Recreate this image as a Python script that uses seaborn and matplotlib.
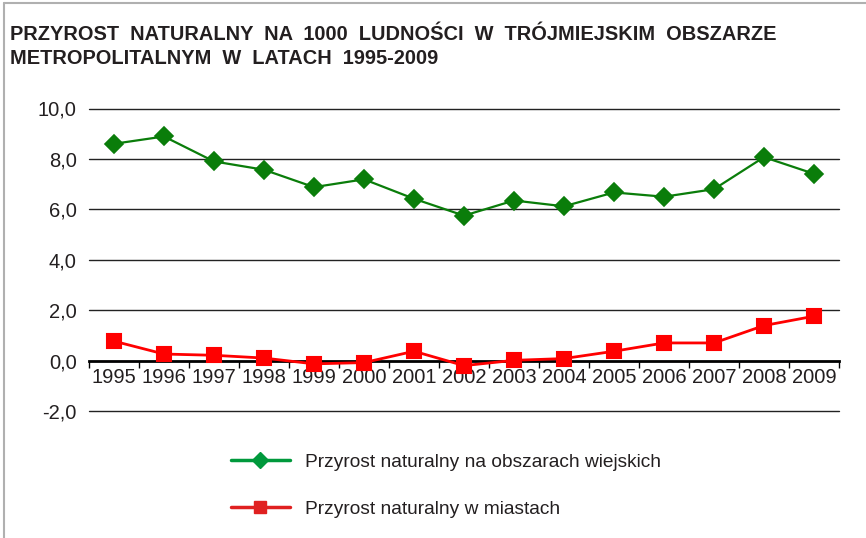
import matplotlib

matplotlib.use("Agg")
import matplotlib.pyplot as plt
from matplotlib.lines import Line2D
import numpy as np
import pandas as pd
import seaborn as sns

years = [str(y) for y in range(1995, 2010)]
rural = [8.60, 8.89, 7.90, 7.57, 6.88, 7.19, 6.42, 5.75, 6.35, 6.12, 6.67, 6.50, 6.80, 8.07, 7.41]
urban = [0.77, 0.26, 0.21, 0.10, -0.13, -0.08, 0.37, -0.20, 0.01, 0.08, 0.37, 0.70, 0.70, 1.39, 1.76]
series_names = [
    "Przyrost naturalny na obszarach wiejskich",
    "Przyrost naturalny w miastach",
]
y_ticks = [-2, 0, 2, 4, 6, 8, 10]
title = "PRZYROST  NATURALNY  NA  1000  LUDNOŚCI  W  TRÓJMIEJSKIM  OBSZARZE\nMETROPOLITALNYM  W  LATACH  1995-2009"

df = pd.DataFrame(
    {
        "year": years * 2,
        "value": rural + urban,
        "series": [series_names[0]] * len(years) + [series_names[1]] * len(years),
    }
)

sns.set_theme(style="white")
plt.rcParams["font.family"] = ["Liberation Sans", "DejaVu Sans"]
text_col = "#231f20"

fig = plt.figure(figsize=(8.66, 5.38), dpi=100, facecolor="white")
ax = fig.add_axes([89 / 866, 1 - 411 / 538, 750 / 866, 302.5 / 538])

line_cols = {series_names[0]: "#0a7d0a", series_names[1]: "#ff0000"}
for name, marker, ms, lw in [(series_names[0], "D", 9, 1.6), (series_names[1], "s", 9.5, 2.0)]:
    sns.pointplot(
        data=df[df["series"] == name],
        x="year",
        y="value",
        order=years,
        color=line_cols[name],
        marker=marker,
        markersize=ms,
        linewidth=lw,
        errorbar=None,
        ax=ax,
    )

ax.set_xlim(-0.5, len(years) - 0.5)
ax.set_ylim(-2, 10)
ax.set_yticks(y_ticks)
ax.set_yticklabels([f"{v:.1f}".replace(".", ",") for v in y_ticks])
for v in y_ticks:
    if v != 0:
        ax.axhline(v, color="#222222", lw=1.0, zorder=0.5, clip_on=False)

for s in ["left", "right", "top"]:
    ax.spines[s].set_visible(False)
ax.spines["bottom"].set_position(("data", 0))
ax.spines["bottom"].set_color("black")
ax.spines["bottom"].set_linewidth(2.0)
ax.spines["bottom"].set_zorder(1)

ax.set_xticks(np.arange(-0.5, len(years), 1.0), minor=True)
ax.tick_params(axis="x", which="minor", direction="out", length=5, width=1, color="black", bottom=True)
ax.tick_params(axis="x", which="major", length=0, pad=5, labelsize=14.5, labelcolor=text_col)
ax.tick_params(axis="y", length=0, pad=9, labelsize=14.5, labelcolor=text_col)
ax.set_xlabel("")
ax.set_ylabel("")

handles = [
    Line2D([], [], color="#00993c", marker="D", markersize=8, lw=2.5),
    Line2D([], [], color="#e02020", marker="s", markersize=9, lw=2.5),
]
fig.legend(
    handles,
    series_names,
    loc="upper left",
    bbox_to_anchor=(214 / 866, 1 - 436 / 538),
    frameon=False,
    fontsize=13.8,
    handlelength=3.05,
    handletextpad=0.78,
    labelspacing=1.55,
    labelcolor=text_col,
)

fig.text(
    10 / 866,
    1 - 25 / 538,
    title,
    ha="left",
    va="top",
    fontsize=14.4,
    fontweight="bold",
    color=text_col,
    linespacing=1.35,
)

fig.add_artist(Line2D([4 / 866, 4 / 866], [0, 1 - 3 / 538], transform=fig.transFigure, color="#b0b0b0", lw=1.5))
fig.add_artist(Line2D([4 / 866, 1], [1 - 3 / 538, 1 - 3 / 538], transform=fig.transFigure, color="#b0b0b0", lw=1.5))

fig.savefig("out.png", dpi=100, facecolor="white")
